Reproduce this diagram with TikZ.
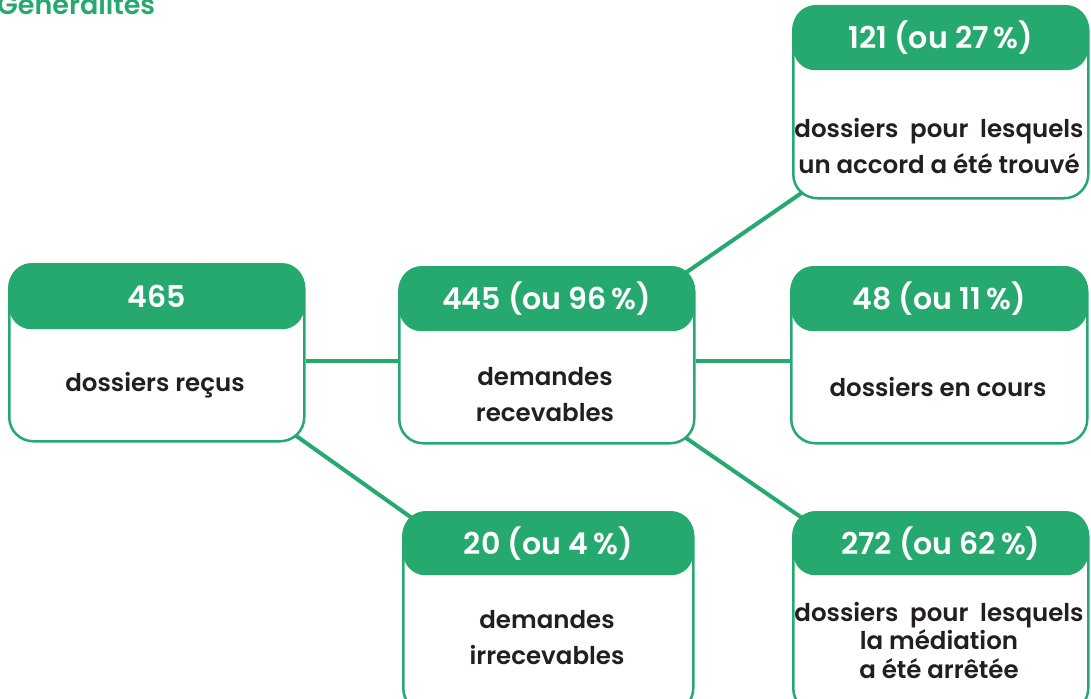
\documentclass[tikz,border=0pt]{standalone}
\usepackage{fontspec}
\IfFontExistsTF{Poppins SemiBold}{\setmainfont{Poppins}[BoldFont={Poppins SemiBold}]}{\setmainfont{Poppins}}
\usetikzlibrary{calc,backgrounds}
\definecolor{vert}{HTML}{26A96E}
\definecolor{texte}{HTML}{231F20}
\tikzset{
  boite/.style={draw=vert, line width=2.5pt, rounded corners=24pt, fill=white, inner sep=0pt, anchor=north west},
  entete/.style={fill=vert, rounded corners=22pt, inner sep=0pt, anchor=north, text=white, font=\bfseries\fontsize{30}{36}\selectfont},
  corps/.style={align=center, text=texte, inner sep=0pt, font=\bfseries\fontsize{24.5}{36}\selectfont},
  lien/.style={draw=vert, line width=4pt},
  diag/.style={lien, shorten <=-12pt, shorten >=-12pt},
}
\begin{document}
\begin{tikzpicture}[x=1pt,y=-1pt]
\useasboundingbox (0,0) rectangle (1091,698);
% title
\node[anchor=base west, text=vert, inner sep=0pt, font=\bfseries\fontsize{27}{30}\selectfont] (titre) at (-3,15) {Généralités};
% boxes
\node[boite, minimum width=295pt, minimum height=177pt] (b1) at (8,263) {};
\node[entete, minimum width=295pt, minimum height=66pt] (h1) at (b1.north) {465};
\node[corps] (t1) at (155,385) {dossiers reçus};

\node[boite, minimum width=295pt, minimum height=176pt] (b2) at (398,266) {};
\node[entete, minimum width=295pt, minimum height=65pt] (h2) at (b2.north) {445 (ou 96\,\%)};
\node[corps] (t2) at (545,395) {demandes\\recevables};

\node[boite, minimum width=295pt, minimum height=192pt] (b3) at (792,5) {};
\node[entete, minimum width=295pt, minimum height=65pt] (h3) at (b3.north) {121 (ou 27\,\%)};
\node[corps] (t3) at (939,146) {dossiers\ \ pour\ \ lesquels\\un accord a été trouvé};

\node[boite, minimum width=296pt, minimum height=176pt] (b4) at (790,266) {};
\node[entete, minimum width=296pt, minimum height=65pt] (h4) at (b4.north) {48 (ou 11\,\%)};
\node[corps] (t4) at (938,387) {dossiers en cours};

\node[boite, minimum width=295pt, minimum height=200pt] (b5) at (792,511) {};
\node[entete, minimum width=295pt, minimum height=64pt] (h5) at (b5.north) {272 (ou 62\,\%)};
\node[corps, font=\bfseries\fontsize{24.5}{28.5}\selectfont] (t5) at (939,640) {dossiers\ \ pour\ \ lesquels\\la médiation\\a été arrêtée};

\node[boite, minimum width=290pt, minimum height=200pt] (b6) at (402,511) {};
\node[entete, minimum width=290pt, minimum height=64pt] (h6) at (b6.north) {20 (ou 4\,\%)};
\node[corps] (t6) at (547,638) {demandes\\irrecevables};

\begin{pgfonlayer}{background}
\draw[lien] ([yshift=-8pt]b1.east) -- ([yshift=-8pt]b1.east -| b2.west);
\draw[lien] ([yshift=-6pt]b2.east) -- ([yshift=-6pt]b2.east -| b4.west);
\draw[diag] (b1.south east) -- (b6.north west);
\draw[diag] (b2.north east) -- (b3.south west);
\draw[diag] (b2.south east) -- (b5.north west);
\end{pgfonlayer}
\end{tikzpicture}
\end{document}
